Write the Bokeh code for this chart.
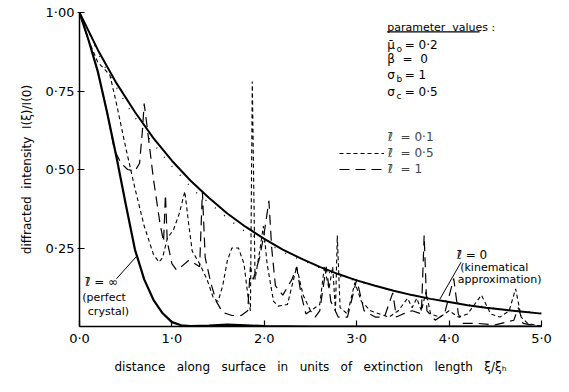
from bokeh.plotting import figure
from bokeh.models import Label, Legend, LegendItem, Arrow, BoxAnnotation, FixedTicker, Range1d
from bokeh.embed import file_html
from bokeh.resources import INLINE

FONT = "DejaVu Sans"
SP2 = "\u00a0\u00a0"
SP3 = "\u00a0\u00a0\u00a0"

# l = 0 (kinematical approximation)
kin_x = [0.0, 0.2, 0.4, 0.6, 0.8, 1.0, 1.2, 1.4, 1.6, 1.8, 2.0, 2.2, 2.4, 2.6, 2.8,
         3.0, 3.2, 3.4, 3.6, 3.8, 4.0, 4.2, 4.4, 4.6, 4.8, 5.0]
kin_y = [1.0, 0.88, 0.775, 0.683, 0.60, 0.528, 0.465, 0.41, 0.36, 0.317, 0.279, 0.245,
         0.216, 0.19, 0.167, 0.147, 0.13, 0.114, 0.10, 0.088, 0.078, 0.068, 0.06, 0.053,
         0.047, 0.041]

# l = infinity (perfect crystal)
perf_x = [0.0, 0.1, 0.2, 0.3, 0.4, 0.5, 0.6, 0.7, 0.8, 0.9, 1.0, 1.1, 1.2, 1.4, 1.6,
          1.8, 2.0, 2.5, 3.0, 4.0, 5.0]
perf_y = [1.0, 0.91, 0.81, 0.68, 0.54, 0.39, 0.245, 0.15, 0.085, 0.042, 0.014, 0.004,
          0.001, 0.003, 0.006, 0.004, 0.001, 0.0, 0.0, 0.0, 0.0]

# l = 0.1 (dotted)
l01_x = [0.0, 0.25, 0.5, 0.75, 1.0, 1.25, 1.5, 1.75, 2.0, 2.25, 2.5, 2.75, 3.0, 3.25,
         3.5, 3.75, 4.0, 4.25, 4.5, 4.75, 5.0]
l01_y = [1.0, 0.84, 0.71, 0.60, 0.51, 0.43, 0.37, 0.31, 0.27, 0.23, 0.20, 0.165, 0.145,
         0.125, 0.105, 0.09, 0.08, 0.068, 0.058, 0.05, 0.043]

# l = 0.5 (short dashes)
l05_x = [0.0, 0.1, 0.2, 0.27, 0.33, 0.4, 0.5, 0.6, 0.7, 0.8, 0.86, 0.9, 0.95, 1.02, 1.08,
         1.14, 1.18, 1.22, 1.3, 1.38, 1.45, 1.5, 1.55, 1.6, 1.65, 1.72, 1.78, 1.83, 1.85,
         1.87, 1.9, 1.95, 1.99, 2.03, 2.1, 2.15, 2.25, 2.35, 2.42, 2.5, 2.6, 2.65, 2.7,
         2.74, 2.77, 2.79, 2.82, 2.9, 2.98, 3.05, 3.15, 3.25, 3.35, 3.45, 3.55, 3.6, 3.65,
         3.7, 3.75, 3.8, 3.9, 4.0, 4.1, 4.2, 4.35, 4.45, 4.55, 4.65, 4.72, 4.78, 4.85, 5.0]
l05_y = [1.0, 0.91, 0.84, 0.82, 0.80, 0.71, 0.57, 0.44, 0.32, 0.23, 0.205, 0.22, 0.28,
         0.31, 0.36, 0.43, 0.33, 0.24, 0.20, 0.15, 0.09, 0.08, 0.13, 0.21, 0.25, 0.25, 0.20,
         0.08, 0.05, 0.78, 0.15, 0.24, 0.32, 0.20, 0.08, 0.065, 0.07, 0.19, 0.10, 0.05,
         0.07, 0.19, 0.12, 0.19, 0.05, 0.29, 0.06, 0.04, 0.14, 0.08, 0.05, 0.04, 0.03,
         0.05, 0.09, 0.06, 0.09, 0.05, 0.11, 0.04, 0.03, 0.05, 0.03, 0.04, 0.10, 0.04,
         0.03, 0.05, 0.12, 0.03, 0.01, 0.0]

# l = 1 (long dashes)
l1_x = [0.0, 0.1, 0.2, 0.3, 0.38, 0.45, 0.52, 0.6, 0.65, 0.68, 0.70, 0.73, 0.8, 0.87,
        0.91, 0.93, 0.95, 1.0, 1.05, 1.1, 1.18, 1.25, 1.3, 1.33, 1.36, 1.42, 1.48, 1.55,
        1.65, 1.75, 1.82, 1.85, 1.88, 1.95, 2.0, 2.05, 2.08, 2.12, 2.2, 2.3, 2.35, 2.4,
        2.45, 2.5, 2.55, 2.6, 2.67, 2.72, 2.8, 2.9, 3.0, 3.08, 3.2, 3.3, 3.39, 3.43, 3.5,
        3.6, 3.7, 3.73, 3.76, 3.85, 3.95, 4.05, 4.1, 4.15, 4.3, 4.5, 4.7, 4.75, 4.8, 5.0]
l1_y = [1.0, 0.91, 0.81, 0.68, 0.56, 0.52, 0.50, 0.495, 0.52, 0.62, 0.71, 0.64, 0.47,
        0.33, 0.27, 0.42, 0.27, 0.20, 0.18, 0.19, 0.21, 0.20, 0.19, 0.43, 0.22, 0.14,
        0.08, 0.045, 0.035, 0.035, 0.05, 0.19, 0.15, 0.22, 0.30, 0.40, 0.25, 0.13, 0.10,
        0.15, 0.19, 0.10, 0.04, 0.05, 0.03, 0.05, 0.19, 0.08, 0.03, 0.03, 0.15, 0.05,
        0.03, 0.03, 0.107, 0.03, 0.04, 0.05, 0.04, 0.29, 0.05, 0.02, 0.04, 0.153, 0.04,
        0.01, 0.01, 0.005, 0.02, 0.06, 0.01, 0.0]

x_ticks = [0, 1, 2, 3, 4, 5]
x_tick_labels = ["0·0", "1·0", "2·0", "3·0", "4·0", "5·0"]
y_ticks = [0.25, 0.5, 0.75, 1.0]
y_tick_labels = ["0·25", "0·50", "0·75", "1·00"]

p = figure(width=553, height=376, output_backend="svg", toolbar_location=None,
           x_range=Range1d(0, 5), y_range=Range1d(0, 1),
           min_border_left=79, min_border_right=12, min_border_top=12, min_border_bottom=42)
p.outline_line_color = None
p.xgrid.visible = False
p.ygrid.visible = False
p.background_fill_color = "white"

# axes
p.xaxis.ticker = FixedTicker(ticks=x_ticks)
p.xaxis.major_label_overrides = {t: l for t, l in zip(x_ticks, x_tick_labels)}
p.yaxis.ticker = FixedTicker(ticks=y_ticks)
p.yaxis.major_label_overrides = {t: l for t, l in zip(y_ticks, y_tick_labels)}
for ax in (p.xaxis, p.yaxis):
    ax.axis_line_color = "black"
    ax.axis_line_width = 1.5
    ax.major_tick_line_color = "black"
    ax.major_tick_line_width = 1.2
    ax.minor_tick_line_color = None
    ax.major_label_text_font = FONT
    ax.major_label_text_font_size = "13px"
    ax.major_label_text_color = "black"
    ax.axis_label_text_font = FONT
    ax.axis_label_text_font_style = "normal"
    ax.axis_label_text_font_size = "12px"
    ax.axis_label_text_color = "black"
p.xaxis.major_tick_in = 6
p.xaxis.major_tick_out = 0
p.xaxis.major_label_standoff = 4
p.xaxis.axis_label = SP3.join(["distance", "along", "surface", "in", "units", "of",
                               "extinction", "length", "ξ/ξₕ"])
p.xaxis.axis_label_standoff = 11
p.yaxis.major_tick_in = 5
p.yaxis.major_tick_out = 2
p.yaxis.major_label_standoff = 3
p.yaxis.axis_label = SP2.join(["diffracted", "intensity", "I(ξ)/I(0)"])
p.yaxis.axis_label_standoff = 9

# curves
r_kin = p.line(kin_x, kin_y, line_color="black", line_width=2.0)
r_perf = p.line(perf_x, perf_y, line_color="black", line_width=2.2)
r01 = p.line(l01_x, l01_y, line_color="black", line_width=1.3, line_dash="1 11")
r05 = p.line(l05_x, l05_y, line_color="black", line_width=1.1, line_dash="4 3")
r1 = p.line(l1_x, l1_y, line_color="black", line_width=1.2, line_dash="10 6")
# legend key for l = 0.1 is not visibly drawn in the original
r01_key = p.line(l01_x, l01_y, line_alpha=0)

legend = Legend(items=[LegendItem(label="ℓ̄  = 0·1", renderers=[r01_key]),
                       LegendItem(label="ℓ̄  = 0·5", renderers=[r05]),
                       LegendItem(label="ℓ̄  = 1", renderers=[r1])],
                location=(260, 149), padding=0, margin=0, spacing=0,
                glyph_width=45, glyph_height=16, label_height=16, label_standoff=4,
                label_text_font=FONT, label_text_font_size="12px",
                border_line_color=None, background_fill_alpha=0)
p.add_layout(legend)


def lab(x, y, text, size="11px", align="left", baseline="middle"):
    p.add_layout(Label(x=x, y=y, text=text, text_font=FONT, text_font_size=size,
                       text_align=align, text_baseline=baseline, text_color="black"))


# parameter block
lab(3.33, 0.953, "parameter\u00a0\u00a0values\u00a0:")
p.add_layout(BoxAnnotation(left=3.33, right=4.33, top=0.940, bottom=0.936,
                           fill_color="black", fill_alpha=1, line_color=None))
lab(3.33, 0.898, "μ̄", "12px")
lab(3.43, 0.885, "o", "9px")
lab(3.52, 0.898, "= 0·2", "12px")
lab(3.33, 0.851, "β\u00a0\u00a0=\u00a0\u00a00", "12px")
lab(3.33, 0.800, "σ", "12px")
lab(3.43, 0.787, "b", "9px")
lab(3.52, 0.800, "= 1", "12px")
lab(3.33, 0.748, "σ", "12px")
lab(3.43, 0.735, "c", "9px")
lab(3.52, 0.748, "= 0·5", "12px")

# annotations
lab(0.064, 0.143, "ℓ̄ = ∞", "12px")
lab(0.03, 0.093, "(perfect")
lab(0.09, 0.047, "crystal)")
p.add_layout(Arrow(end=None, x_start=0.40, y_start=0.152, x_end=0.625, y_end=0.226,
                   line_color="black", line_width=1))
lab(4.085, 0.227, "ℓ̄ = 0", "12px")
lab(4.12, 0.189, "(kinematical")
lab(5.0, 0.149, "approximation)", align="right")
p.add_layout(Arrow(end=None, x_start=4.13, y_start=0.205, x_end=3.90, y_end=0.087,
                   line_color="black", line_width=1))

open("out.html", "w").write(file_html(p, INLINE))
